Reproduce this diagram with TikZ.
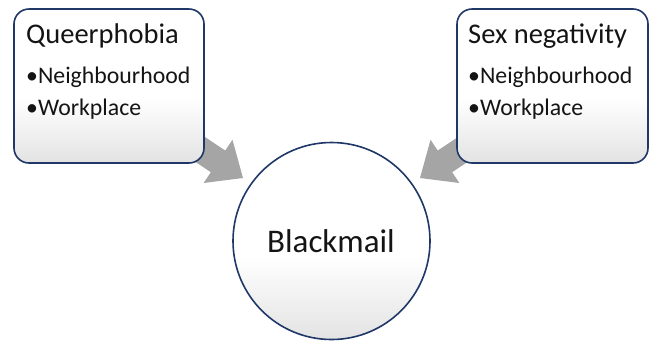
\documentclass[tikz,border=0pt]{standalone}
\usepackage{fontspec}
\setmainfont{Carlito}
\usetikzlibrary{calc}
\definecolor{navy}{RGB}{32,56,104}
\definecolor{ink}{RGB}{20,20,20}
\definecolor{flow}{RGB}{165,165,165}
% white in the upper part, fading to light grey at the bottom
\pgfdeclareverticalshading{softfade}{100bp}{%
  color(0bp)=(black!11); color(25bp)=(black!11);
  color(46bp)=(white); color(100bp)=(white)}
\tikzset{
  card/.style={draw=navy, line width=1.6pt, rounded corners=15pt, shading=softfade},
  hub/.style={circle, draw=navy, line width=1.6pt, minimum size=197pt,
    inner sep=0pt, shading=softfade},
  title/.style={anchor=base west, inner sep=0pt, text=ink, font=\fontsize{28.5}{30}\selectfont},
  item/.style={anchor=base west, inner sep=0pt, text=ink, font=\fontsize{23.8}{26}\selectfont},
  blockarrow/.style={fill=flow, draw=none}
}
% block arrow from tail (#1) to tip (#2)
\newcommand\blockarrow[2]{%
  \fill[blockarrow]
    ($(#1)!13pt!90:(#2)$) --
    ($($(#2)!30pt!(#1)$)!13pt!-90:(#1)$) --
    ($($(#2)!30pt!(#1)$)!26pt!-90:(#1)$) --
    (#2) --
    ($($(#2)!30pt!(#1)$)!26pt!90:(#1)$) --
    ($($(#2)!30pt!(#1)$)!13pt!90:(#1)$) --
    ($(#1)!13pt!-90:(#2)$) -- cycle;}
\begin{document}
\begin{tikzpicture}[x=1pt,y=-1pt]
\useasboundingbox (0,0) rectangle (652,341);

% arrow ends
\coordinate (tailL) at (168,128);
\coordinate (tipL) at (243,178);
\coordinate (tailR) at (495,128);
\coordinate (tipR) at (420,178);
\blockarrow{tailL}{tipL}
\blockarrow{tailR}{tipR}

% left card
\path[card] (14,9) rectangle (204,163);
\node[title] (qp) at (26,43) {Queerphobia};
\node[item] (qp1) at (26,83) {•Neighbourhood};
\node[item] (qp2) at (26,115) {•Workplace};

% right card
\path[card] (457,9) rectangle (648,163);
\node[title] (sn) at (468,43) {Sex negativity};
\node[item] (sn1) at (468,83) {•Neighbourhood};
\node[item] (sn2) at (468,115) {•Workplace};

% centre
\node[hub] (bm) at (331.5,241) {};
\node[anchor=base, inner sep=0pt, text=ink, font=\fontsize{33}{36}\selectfont] (bmtext) at (331,252) {Blackmail};
\end{tikzpicture}
\end{document}
